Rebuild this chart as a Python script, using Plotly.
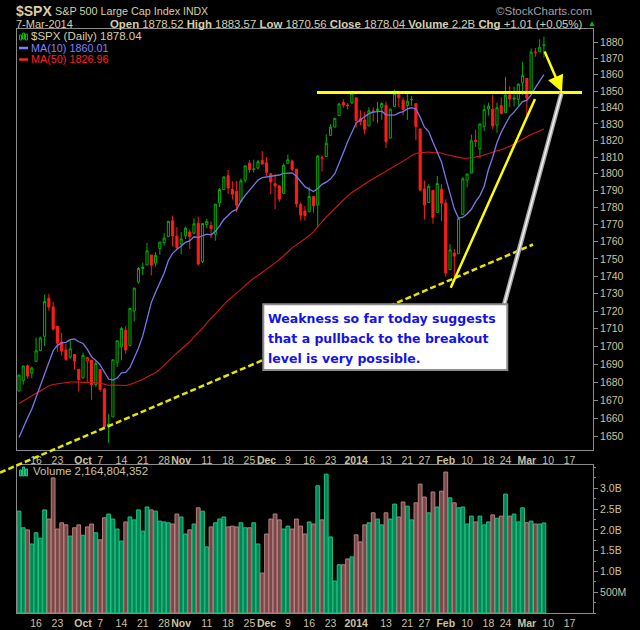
import math
import pandas as pd
import plotly.graph_objects as go

# ---------------- data ----------------
dates = """2013-09-10 2013-09-11 2013-09-12 2013-09-13 2013-09-16 2013-09-17 2013-09-18 2013-09-19 2013-09-20 2013-09-23
2013-09-24 2013-09-25 2013-09-26 2013-09-27 2013-09-30 2013-10-01 2013-10-02 2013-10-03 2013-10-04 2013-10-07 2013-10-08
2013-10-09 2013-10-10 2013-10-11 2013-10-14 2013-10-15 2013-10-16 2013-10-17 2013-10-18 2013-10-21 2013-10-22 2013-10-23
2013-10-24 2013-10-25 2013-10-28 2013-10-29 2013-10-30 2013-10-31 2013-11-01 2013-11-04 2013-11-05 2013-11-06 2013-11-07
2013-11-08 2013-11-11 2013-11-12 2013-11-13 2013-11-14 2013-11-15 2013-11-18 2013-11-19 2013-11-20 2013-11-21 2013-11-22
2013-11-25 2013-11-26 2013-11-27 2013-11-29 2013-12-02 2013-12-03 2013-12-04 2013-12-05 2013-12-06 2013-12-09 2013-12-10
2013-12-11 2013-12-12 2013-12-13 2013-12-16 2013-12-17 2013-12-18 2013-12-19 2013-12-20 2013-12-23 2013-12-24 2013-12-26
2013-12-27 2013-12-30 2013-12-31 2014-01-02 2014-01-03 2014-01-06 2014-01-07 2014-01-08 2014-01-09 2014-01-10 2014-01-13
2014-01-14 2014-01-15 2014-01-16 2014-01-17 2014-01-21 2014-01-22 2014-01-23 2014-01-24 2014-01-27 2014-01-28 2014-01-29
2014-01-30 2014-01-31 2014-02-03 2014-02-04 2014-02-05 2014-02-06 2014-02-07 2014-02-10 2014-02-11 2014-02-12 2014-02-13
2014-02-14 2014-02-18 2014-02-19 2014-02-20 2014-02-21 2014-02-24 2014-02-25 2014-02-26 2014-02-27 2014-02-28 2014-03-03
2014-03-04 2014-03-05 2014-03-06 2014-03-07""".split()

future_dates = ["2014-03-10", "2014-03-11", "2014-03-12", "2014-03-13", "2014-03-14",
                "2014-03-17", "2014-03-18", "2014-03-19", "2014-03-20", "2014-03-21", "2014-03-24"]

opens = [1675.11, 1681.04, 1689.21, 1685.04, 1691.70, 1697.73, 1705.74, 1727.34, 1722.44, 1711.44, 1702.60, 1698.02,
         1694.05, 1695.52, 1687.26,
         1682.41, 1691.90, 1692.35, 1678.79, 1687.15, 1676.22, 1656.99, 1660.88, 1691.09, 1699.86, 1709.17, 1700.49,
         1720.17, 1736.72, 1745.20, 1746.48, 1752.27, 1747.48, 1756.01, 1759.42, 1762.93, 1772.27, 1763.24,
         1758.70, 1763.40, 1765.67, 1765.00, 1770.74, 1748.37, 1769.96, 1769.51, 1764.37, 1782.75, 1790.66, 1798.82,
         1790.79, 1789.59, 1783.52, 1796.19, 1806.33, 1802.87, 1803.48, 1808.01,
         1806.55, 1800.10, 1794.15, 1792.82, 1788.36, 1806.21, 1807.60, 1802.76, 1781.71, 1777.98, 1777.48, 1786.47,
         1781.46, 1809.00, 1810.39, 1822.92, 1828.02, 1834.96, 1842.97, 1841.47, 1842.61,
         1845.86, 1833.21, 1832.31, 1828.71, 1837.90, 1839.00, 1840.06, 1841.26, 1821.36, 1840.52, 1847.99, 1844.23,
         1841.05, 1844.71, 1842.29, 1826.96, 1791.03, 1783.00, 1790.15, 1777.17, 1790.88,
         1782.68, 1743.82, 1753.38, 1752.99, 1776.01, 1796.20, 1800.45, 1820.12, 1814.82, 1828.46, 1839.03, 1838.90,
         1829.24, 1841.07, 1836.78, 1847.66, 1845.79, 1844.90, 1855.12,
         1857.68, 1849.23, 1874.05, 1874.18, 1878.52]

highs = [1684.09, 1689.13, 1689.97, 1688.73, 1704.95, 1705.52, 1729.44, 1729.86, 1725.23, 1711.44, 1707.63, 1701.71,
         1703.85, 1695.52, 1687.26,
         1696.55, 1693.87, 1692.35, 1691.94, 1687.15, 1676.79, 1662.47, 1692.56, 1703.44, 1711.03, 1711.57, 1721.76,
         1733.45, 1745.31, 1747.79, 1759.33, 1752.27, 1753.94, 1759.82, 1764.99, 1772.09, 1775.22, 1768.53,
         1765.67, 1768.78, 1767.03, 1773.74, 1774.54, 1770.78, 1773.44, 1771.78, 1782.00, 1791.53, 1798.22, 1802.33,
         1795.51, 1795.73, 1797.16, 1804.84, 1808.10, 1808.42, 1808.27, 1813.55,
         1810.02, 1800.10, 1799.80, 1792.82, 1806.04, 1811.52, 1808.52, 1802.97, 1782.99, 1780.92, 1792.22, 1786.77,
         1811.08, 1810.88, 1823.75, 1829.75, 1833.32, 1842.84, 1844.89, 1842.47, 1849.44,
         1845.86, 1838.24, 1837.16, 1840.10, 1840.02, 1843.23, 1843.15, 1843.45, 1839.26, 1850.84, 1847.99, 1846.04,
         1849.31, 1846.87, 1842.29, 1826.96, 1795.98, 1793.87, 1790.15, 1798.77, 1793.88,
         1784.83, 1758.73, 1755.79, 1774.06, 1798.03, 1799.94, 1823.54, 1826.55, 1830.25, 1841.65, 1842.87, 1847.50,
         1842.79, 1846.13, 1858.71, 1852.91, 1852.65, 1854.53, 1867.92,
         1857.68, 1876.23, 1876.53, 1881.94, 1883.57]

lows = [1675.11, 1678.70, 1681.96, 1682.22, 1691.70, 1697.73, 1700.35, 1720.20, 1708.89, 1697.10, 1694.90, 1691.88,
        1693.11, 1687.11, 1674.99,
        1682.07, 1680.34, 1670.36, 1677.33, 1674.70, 1655.03, 1646.47, 1660.88, 1688.52, 1692.13, 1695.93, 1700.49,
        1714.12, 1735.74, 1740.67, 1746.48, 1740.50, 1745.50, 1752.45, 1757.67, 1762.93, 1757.24, 1755.72,
        1752.70, 1761.56, 1755.76, 1764.23, 1746.20, 1747.63, 1767.85, 1762.29, 1760.64, 1780.22, 1790.66, 1788.00,
        1784.72, 1777.23, 1783.52, 1794.70, 1800.58, 1800.77, 1802.77, 1805.81,
        1798.60, 1787.85, 1779.09, 1783.38, 1788.36, 1806.21, 1801.75, 1780.09, 1772.28, 1772.45, 1777.48, 1777.05,
        1767.99, 1801.35, 1810.25, 1822.92, 1828.02, 1834.96, 1839.81, 1838.77, 1842.41,
        1827.74, 1829.13, 1823.73, 1828.71, 1831.40, 1830.38, 1832.43, 1815.52, 1821.36, 1840.52, 1840.30, 1835.23,
        1832.38, 1840.88, 1820.06, 1790.29, 1772.88, 1783.00, 1770.45, 1777.17, 1772.26,
        1739.66, 1743.82, 1737.92, 1752.99, 1776.01, 1791.83, 1800.41, 1815.97, 1809.22, 1825.59, 1835.01, 1826.99,
        1824.58, 1835.60, 1836.78, 1840.19, 1840.66, 1841.13, 1847.67,
        1834.44, 1849.23, 1871.11, 1874.18, 1870.56]

closes = [1683.99, 1689.13, 1683.42, 1687.99, 1697.60, 1704.76, 1725.52, 1722.34, 1709.91, 1701.84, 1697.42, 1692.77,
          1698.67, 1691.75, 1681.55,
          1695.00, 1693.87, 1678.66, 1690.50, 1676.12, 1655.45, 1656.40, 1692.56, 1703.20, 1710.14, 1698.06, 1721.54,
          1733.15, 1744.50, 1744.66, 1754.67, 1746.38, 1752.07, 1759.77, 1762.11, 1771.95, 1763.31, 1756.54,
          1761.64, 1767.93, 1762.97, 1770.49, 1747.15, 1770.61, 1771.89, 1767.69, 1782.00, 1790.62, 1798.18, 1791.53,
          1787.87, 1781.37, 1795.85, 1804.76, 1802.48, 1802.75, 1807.23, 1805.81,
          1800.90, 1795.15, 1792.81, 1785.03, 1805.09, 1808.37, 1802.62, 1782.22, 1775.50, 1775.32, 1786.54, 1781.00,
          1810.65, 1809.60, 1818.32, 1827.99, 1833.32, 1842.02, 1841.40, 1841.07, 1848.36,
          1831.98, 1831.37, 1826.77, 1837.88, 1837.49, 1838.13, 1842.37, 1819.20, 1838.88, 1848.38, 1845.89, 1838.70,
          1843.80, 1844.86, 1828.46, 1790.29, 1781.56, 1792.50, 1774.20, 1794.19, 1782.59,
          1741.89, 1755.20, 1751.64, 1773.43, 1797.02, 1799.84, 1819.75, 1819.26, 1829.83, 1838.63, 1840.76, 1828.75,
          1839.78, 1836.25, 1847.61, 1845.12, 1845.16, 1854.29, 1859.45,
          1845.73, 1873.91, 1873.81, 1877.03, 1878.04]

# closes before the visible window (Jul 1 - Sep 9, 2013), used only by the moving averages
prior_closes = [1614.08, 1614.96, 1615.41, 1631.89, 1640.46, 1652.32, 1652.62, 1675.02, 1680.19, 1682.50, 1676.26,
                1680.91, 1689.37, 1692.09, 1695.53, 1692.39, 1685.94, 1690.25, 1691.65, 1685.33, 1685.96, 1685.73,
                1706.87, 1709.67, 1707.14, 1697.37, 1690.91, 1697.48, 1691.42, 1689.47, 1694.16, 1685.39, 1661.32,
                1655.83, 1646.06, 1652.35, 1642.80, 1656.96, 1663.50, 1656.78, 1630.48, 1634.96, 1638.17, 1632.97,
                1639.77, 1653.08, 1655.08, 1655.17, 1671.71]

volume_bn = [2.45, 2.05, 2.00, 1.66, 1.93, 1.80, 2.48, 2.26, 3.25, 2.02, 2.17, 2.12, 1.85, 2.05, 2.12,
             1.87, 2.07, 2.14, 1.93, 1.76, 2.29, 2.38, 2.26, 2.02, 1.73, 2.19, 2.31, 2.24, 2.48, 1.97, 2.55, 2.48,
             2.45, 2.21, 2.19, 2.17, 2.14, 2.38,
             2.31, 1.90, 2.00, 2.14, 2.53, 2.45, 1.59, 2.07, 2.17, 2.26, 2.31, 2.07, 2.09, 2.07, 2.17, 2.05, 2.05,
             2.17, 1.66, 0.96,
             1.90, 2.26, 2.38, 2.24, 2.02, 2.09, 2.02, 2.26, 2.09, 1.90, 2.19, 2.14, 3.06, 2.24, 3.34, 1.83, 0.77,
             1.16, 1.16, 1.30, 1.35,
             1.88, 1.71, 2.12, 2.17, 2.41, 2.26, 2.12, 2.41, 2.26, 2.62, 2.31, 2.67, 2.57, 2.24, 2.65, 3.10, 2.79,
             2.41, 2.91, 2.55, 2.93,
             3.39, 2.77, 2.65, 2.53, 2.55, 2.14, 2.33, 2.19, 2.33, 2.12, 2.19, 2.36, 2.28, 2.33, 2.86, 2.33, 2.38,
             2.19, 2.53,
             2.17, 2.21, 2.14, 2.14, 2.165]

tick_dates = ["2013-09-16", "2013-09-23", "2013-10-01", "2013-10-07", "2013-10-14", "2013-10-21", "2013-10-28",
              "2013-11-01", "2013-11-11", "2013-11-18", "2013-11-25", "2013-12-02", "2013-12-09", "2013-12-16",
              "2013-12-23", "2014-01-02", "2014-01-13", "2014-01-21", "2014-01-27", "2014-02-03", "2014-02-10",
              "2014-02-18", "2014-02-24", "2014-03-03", "2014-03-10", "2014-03-17"]
tick_text = ["16", "23", "<b>Oct</b>", "7", "14", "21", "28", "<b>Nov</b>", "11", "18", "25", "<b>Dec</b>", "9",
             "16", "23", "<b>2014</b>", "13", "21", "27", "<b>Feb</b>", "10", "18", "24", "<b>Mar</b>", "10", "17"]

price_ticks = [1650, 1660, 1670, 1680, 1690, 1700, 1710, 1720, 1730, 1740, 1750, 1760, 1770, 1780, 1790, 1800,
               1810, 1820, 1830, 1840, 1850, 1860, 1870, 1880]
vol_ticks_bn = [0.5, 1.0, 1.5, 2.0, 2.5, 3.0]
vol_tick_text = ["500M", "1.0B", "1.5B", "2.0B", "2.5B", "3.0B"]

# ---------------- derived ----------------
all_dates = dates + future_dates
xi = [all_dates.index(d) for d in dates]
tickvals = [all_dates.index(d) for d in tick_dates]

full = pd.Series(prior_closes + closes)
ma10 = full.rolling(10).mean().iloc[len(prior_closes):].tolist()
ma50 = full.rolling(50).mean().iloc[len(prior_closes):].tolist()

prev = [prior_closes[-1]] + closes[:-1]
up = [c >= p for c, p in zip(closes, prev)]

GREEN = "#00b000"
RED = "#ff1c1c"
TAN = "#cbc39d"
HEAD = "#d6cfa8"
GRAY = "#8a8a8a"

# ---------------- geometry ----------------
W, H = 640, 630
L, R, T, B = 17, 47, 29, 17
PW, PH = W - L - R, H - T - B


def px(x):
    return (x - L) / PW


def py(y):
    return (H - B - y) / PH


fig = go.Figure()


def subset(arr, flag):
    return [a for a, u in zip(arr, up) if u == flag]


for flag, col in [(True, GREEN), (False, RED)]:
    fig.add_trace(go.Candlestick(
        x=subset(xi, flag), open=subset(opens, flag), high=subset(highs, flag),
        low=subset(lows, flag), close=subset(closes, flag),
        increasing=dict(line=dict(color=col, width=1), fillcolor="#000000"),
        decreasing=dict(line=dict(color=col, width=1), fillcolor=col),
        whiskerwidth=0, showlegend=False, hoverinfo="skip", xaxis="x", yaxis="y"))

fig.add_trace(go.Scatter(x=xi, y=ma50, mode="lines", line=dict(color="#d01818", width=1.1),
                         showlegend=False, hoverinfo="skip", xaxis="x", yaxis="y"))
fig.add_trace(go.Scatter(x=xi, y=ma10, mode="lines", line=dict(color="#7878e8", width=1.3),
                         showlegend=False, hoverinfo="skip", xaxis="x", yaxis="y"))

vol = [v * 1e9 for v in volume_bn]
fig.add_trace(go.Bar(
    x=xi, y=vol,
    marker=dict(color=["#008656" if u else "#7a4848" for u in up],
                line=dict(color=["#20c080" if u else "#b88080" for u in up], width=1)),
    showlegend=False, hoverinfo="skip", xaxis="x2", yaxis="y2"))

xr = [-0.47, 134.5]
p_lo, p_hi = 1642.75, 1888.36
axis_common = dict(showgrid=False, zeroline=False, showline=True, mirror=True, linecolor=GRAY, linewidth=1,
                   automargin=False)
xcommon = dict(range=xr, tickmode="array", tickvals=tickvals, ticktext=tick_text, tickangle=0,
               tickfont=dict(size=10.5, color=TAN), ticks="")

fig.update_layout(
    width=W, height=H, margin=dict(l=L, r=R, t=T, b=B, autoexpand=False),
    paper_bgcolor="#000000", plot_bgcolor="#000000",
    bargap=0.12, showlegend=False,
    font=dict(family="Liberation Sans, Arial, sans-serif", color=TAN, size=11),
    xaxis=dict(domain=[0, 1], anchor="y", rangeslider=dict(visible=False), **xcommon, **axis_common),
    yaxis=dict(domain=[py(450), 1], anchor="x", type="log", range=[math.log10(p_lo), math.log10(p_hi)],
               side="right", tickmode="array", tickvals=price_ticks, ticktext=[str(t) for t in price_ticks],
               ticks="outside", ticklen=4, tickcolor=GRAY, tickfont=dict(size=10.5, color=TAN), **axis_common),
    xaxis2=dict(domain=[0, 1], anchor="y2", matches="x", **xcommon, **axis_common),
    yaxis2=dict(domain=[0, py(465)], anchor="x2", range=[0, 3.56e9], side="right", tickmode="array",
                tickvals=[v * 1e9 for v in vol_ticks_bn], ticktext=vol_tick_text, ticks="outside", ticklen=4,
                tickcolor=GRAY, tickfont=dict(size=10.5, color=TAN),
                minor=dict(tickmode="linear", tick0=0, dtick=0.25e9, ticks="outside", ticklen=2, tickcolor=GRAY),
                **axis_common),
)

shapes = []


def seg(x0, y0, x1, y1, color, width, dash=None):
    line = dict(color=color, width=width)
    if dash:
        line["dash"] = dash
    shapes.append(dict(type="line", xref="paper", yref="paper", x0=px(x0), y0=py(y0), x1=px(x1), y1=py(y1),
                       line=line, layer="above"))


# dashed support trendline (runs past the panel)
seg(0, 472.6, 533, 244.5, "#e6e600", 2.5, "6px,3px")
# rising trendline
seg(450.7, 287.7, 535, 99, "#ffff00", 2.5)
# breakout level
seg(317, 92.5, 582, 92.5, "#ffff00", 3)
# grey pointer from the note
seg(504, 305, 561.5, 93, "#a8a8a8", 4.5)
seg(504, 305, 561.5, 93, "#f4f4f4", 1.5)
# note box
shapes.append(dict(type="rect", xref="paper", yref="paper", x0=px(263.3), y0=py(370), x1=px(507.3), y1=py(304.3),
                   fillcolor="#ffffff", line=dict(color="#8c8c8c", width=2), layer="above"))
# legend icons
seg(19, 48, 28, 48, "#8080ff", 2.5)
seg(19, 59.5, 28, 59.5, "#ff2020", 2.5)
for (x0, x1, y0, y1) in [(19.5, 21.5, 35, 40), (22.5, 24.5, 33, 39), (25.5, 27.5, 34, 40)]:
    shapes.append(dict(type="rect", xref="paper", yref="paper", x0=px(x0), x1=px(x1), y0=py(y1), y1=py(y0),
                       line=dict(color="#00c000", width=1), fillcolor="rgba(0,0,0,0)", layer="above"))
for (x0, x1, y0, y1) in [(19.5, 21.5, 470, 476), (22.5, 24.5, 467, 476), (25.5, 27.5, 469, 476)]:
    shapes.append(dict(type="rect", xref="paper", yref="paper", x0=px(x0), x1=px(x1), y0=py(y1), y1=py(y0),
                       line=dict(color="#20c080", width=1), fillcolor="#008656", layer="above"))
fig.update_layout(shapes=shapes)

ann = []


def text(x, y, s, size=11, color=TAN, anchor="left", family=None, bold=False, pad=1):
    f = dict(size=size, color=color)
    if family:
        f["family"] = family
    ann.append(dict(xref="paper", yref="paper", x=px(x), y=py(y), text=("<b>%s</b>" % s) if bold else s,
                    showarrow=False, xanchor=anchor, yanchor="middle", font=f, borderpad=pad))


# header
text(14, 10.5, "$SPX", size=14, bold=True, color=HEAD)
text(53, 11, "S&P 500 Large Cap Index", size=10.8, color=HEAD)
text(181, 11, "INDX", size=10.5, color=HEAD)
text(594, 11, "©StockCharts.com", size=11.5, color="#a0a0a0", anchor="right")
text(14, 24, "7-Mar-2014", size=11, color=HEAD)
text(584, 24, "<b>Open</b> 1878.52 <b>High</b> 1883.57 <b>Low</b> 1870.56 <b>Close</b> 1878.04 "
              "<b>Volume</b> 2.2B <b>Chg</b> +1.01 (+0.05%)", size=11.4, color=HEAD, anchor="right")
text(586, 23, "▲", size=8, color="#00c000")
# legends
text(30, 36, "$SPX (Daily) 1878.04", size=11.5, color=HEAD, pad=0)
text(29.5, 48, "MA(10) 1860.01", size=10.8, color="#8080ff", pad=0)
text(29.5, 59.5, "MA(50) 1826.96", size=10.8, color="#ff2020", pad=0)
text(31, 471, "Volume 2,164,804,352", size=11.5, color=TAN)
# note text
for yy, s in [(318, "Weakness so far today suggests"), (338, "that a pullback to the breakout"),
              (358, "level is very possible.")]:
    text(266, yy, s, size=12.5, color="#1414e6", family="DejaVu Sans", bold=True)

# yellow arrow toward the breakout level
ann.append(dict(xref="paper", yref="paper", x=px(562), y=py(92), ax=544 - 562, ay=50 - 92, text="",
                showarrow=True, arrowhead=2, arrowsize=1.3, arrowwidth=2.5, arrowcolor="#ffff00"))

fig.update_layout(annotations=ann)
fig.write_html("out.html")
